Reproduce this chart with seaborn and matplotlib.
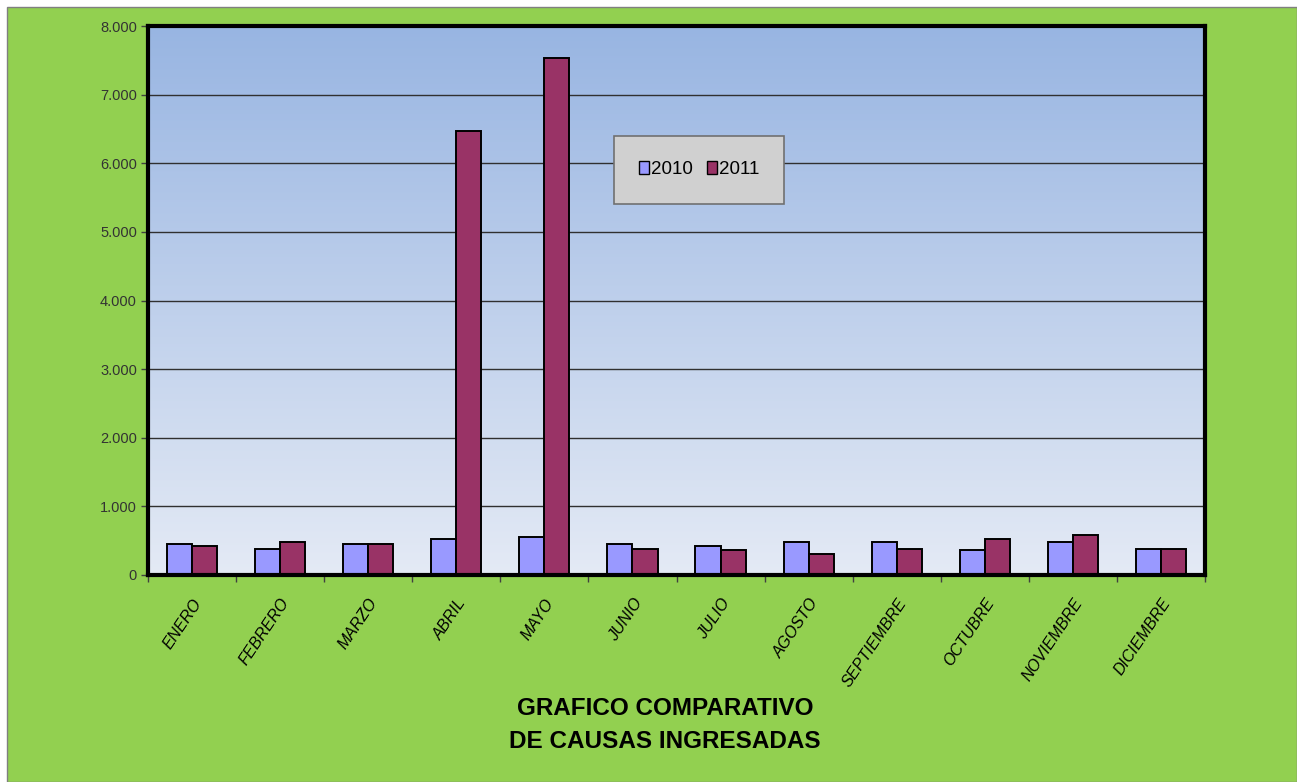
import numpy as np
import pandas as pd
import matplotlib
matplotlib.use("Agg")
import matplotlib.pyplot as plt
import matplotlib.ticker as mticker
from matplotlib.patches import Rectangle, Patch
import seaborn as sns

# ----------------------------
# data
# ----------------------------
meses = ["ENERO", "FEBRERO", "MARZO", "ABRIL", "MAYO", "JUNIO",
         "JULIO", "AGOSTO", "SEPTIEMBRE", "OCTUBRE", "NOVIEMBRE", "DICIEMBRE"]
causas_2010 = [455, 385, 457, 521, 560, 457, 423, 482, 482, 365, 482, 385]
causas_2011 = [423, 482, 457, 6467, 7533, 380, 360, 311, 385, 521, 584, 385]
anios = ["2010", "2011"]
colores = ["#9999FF", "#993366"]

df = pd.DataFrame({
    "mes": meses * 2,
    "anio": [anios[0]] * len(meses) + [anios[1]] * len(meses),
    "causas": causas_2010 + causas_2011,
})

sns.set_theme(style="white")
plt.rcParams["font.family"] = ["Liberation Sans Narrow", "Liberation Sans", "DejaVu Sans"]
plt.rcParams["text.color"] = "black"

W, H = 1297, 782
fig = plt.figure(figsize=(W / 100, H / 100), dpi=100, facecolor="white")
# green chart area with a thin gray border
fig.patches.append(Rectangle((7 / W, 0), 1 - 7 / W, 1 - 7 / H, transform=fig.transFigure,
                             facecolor="#92D050", edgecolor="#808080", lw=1, zorder=0))

ax = fig.add_axes([148 / W, 1 - 575 / H, (1205 - 148) / W, (575 - 26) / H])
ax.set_zorder(2)

# gradient plot background
grad = np.linspace(0, 1, 256).reshape(-1, 1)
cmap = matplotlib.colors.LinearSegmentedColormap.from_list("bg", ["#E4EAF5", "#98B5E2"])
ax.imshow(grad, extent=[-0.5, 11.5, 0, 8000], origin="lower", aspect="auto",
          cmap=cmap, zorder=0)

sns.barplot(data=df, x="mes", y="causas", hue="anio", palette=colores,
            width=0.57, edgecolor="black", linewidth=1.4, saturation=1,
            ax=ax, zorder=3, legend=False)

ax.set_xlim(-0.5, 11.5)
ax.set_ylim(0, 8000)
ax.set_yticks(range(0, 8001, 1000))
ax.yaxis.set_major_formatter(mticker.FuncFormatter(
    lambda v, p: f"{int(v):,}".replace(",", ".")))
for y in range(1000, 8000, 1000):
    ax.axhline(y, color="#303030", lw=1, zorder=1)

for s in ax.spines.values():
    s.set_visible(True)
    s.set_color("black")
    s.set_linewidth(3)
    s.set_zorder(5)

ax.tick_params(axis="y", left=True, length=5, width=1, color="#404040",
               labelsize=10.5, labelcolor="#333333", pad=3)
ax.tick_params(axis="x", bottom=False, labelsize=11.5, pad=9, labelcolor="black")
ax.set_xticks(np.arange(-0.5, 11.6, 1), minor=True)
ax.tick_params(axis="x", which="minor", bottom=True, length=5, width=1, color="#404040")
ax.set_xticklabels(meses, rotation=56, ha="right", rotation_mode="anchor",
                   fontstyle="italic", color="black")
ax.set_xlabel("")
ax.set_ylabel("")

handles = [Patch(facecolor=c, edgecolor="black", lw=1) for c in colores]
leg = ax.legend(handles, anios, loc="upper left",
                bbox_to_anchor=((614 - 148) / (1205 - 148), 1 - (136 - 26) / 549),
                borderaxespad=0,
                frameon=True, fancybox=False, facecolor="#D0D0D0", edgecolor="#707070",
                ncol=2, fontsize=13.5, handlelength=0.5, handleheight=0.7, handletextpad=0.1,
                columnspacing=0.8, borderpad=1.35, framealpha=1)
leg.get_frame().set_linewidth(1.2)
leg.set_zorder(6)

fig.text(665 / W, 1 - 725 / H, "GRAFICO COMPARATIVO\nDE CAUSAS INGRESADAS",
         ha="center", va="center", fontsize=17.5, fontweight="bold", linespacing=1.6,
         color="black")

fig.savefig("out.png", dpi=100, facecolor=fig.get_facecolor())
